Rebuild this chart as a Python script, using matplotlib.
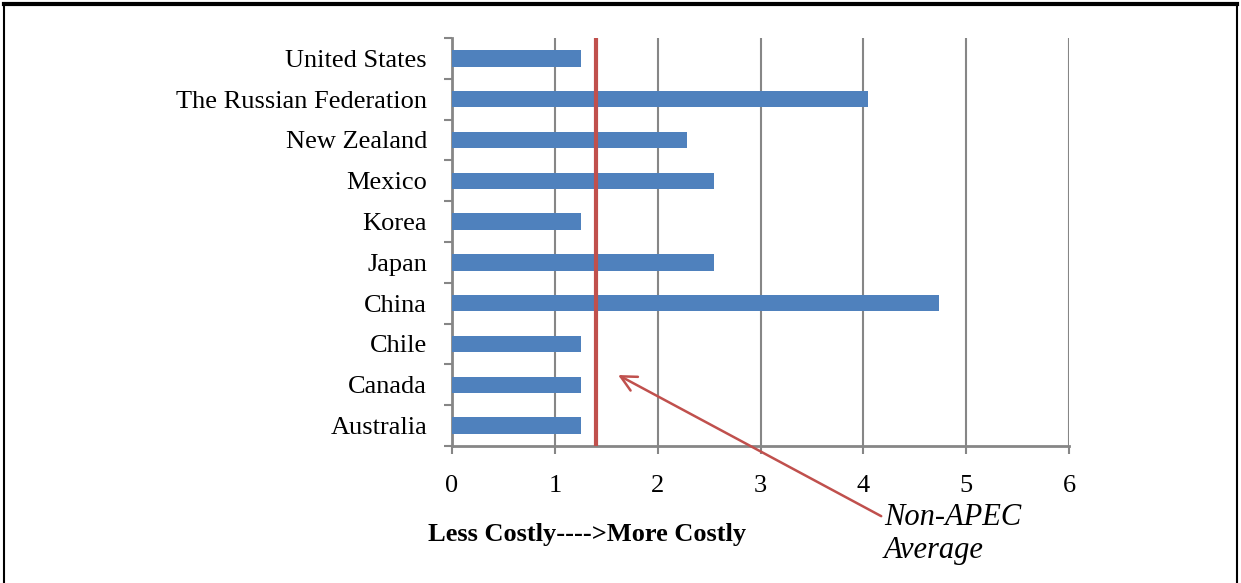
import matplotlib
matplotlib.use("Agg")
import matplotlib.pyplot as plt
from matplotlib.lines import Line2D

countries = ["Australia", "Canada", "Chile", "China", "Japan", "Korea",
             "Mexico", "New Zealand", "The Russian Federation", "United States"]
values = [1.25, 1.25, 1.25, 4.74, 2.55, 1.25, 2.55, 2.29, 4.05, 1.25]
non_apec_avg = 1.40
xticks = [0, 1, 2, 3, 4, 5, 6]

plt.rcParams['font.family'] = ['Liberation Serif', 'DejaVu Serif']

W, H = 1241, 583
fig = plt.figure(figsize=(W / 100, H / 100), dpi=100)
ax = fig.add_axes([452 / W, 1 - 446 / H, (1069 - 452) / W, (446 - 38) / H])

grey = "#868686"
ypos = list(range(len(countries)))
ax.barh(ypos, values, height=0.4, color="#4F81BD", zorder=3)
ax.axvline(non_apec_avg, color="#C0504D", lw=3, zorder=4)

ax.set_xlim(0, 6)
ax.set_ylim(-0.5, len(countries) - 0.5)
ax.set_xticks(xticks)
ax.set_xticklabels([str(t) for t in xticks], fontsize=19)
ax.set_yticks(ypos)
ax.set_yticklabels(countries, fontsize=19)
ax.tick_params(axis='y', length=0, pad=18)
ax.set_yticks([i - 0.5 for i in range(len(countries) + 1)], minor=True)
ax.tick_params(axis='y', which='minor', length=6, width=1.5, color=grey, direction='out')
ax.tick_params(axis='x', length=6, width=1.5, color=grey, direction='out', pad=15)

ax.grid(axis='x', color=grey, lw=1.5, zorder=0)
for s in ['top', 'right']:
    ax.spines[s].set_visible(False)
for s in ['left', 'bottom']:
    ax.spines[s].set_color(grey)
    ax.spines[s].set_linewidth(2)

fig.text(587 / W, 1 - 534 / H, "Less Costly---->More Costly", fontsize=19,
         fontweight='bold', ha='center', va='center')

ax.annotate("Non-APEC\nAverage", xy=(1.615, 1.24), xycoords='data',
            xytext=(884 / W, 1 - 534 / H), textcoords='figure fraction',
            fontsize=22, fontstyle='italic', ha='left', va='center',
            linespacing=1.22,
            arrowprops=dict(arrowstyle='->', color="#C0504D", lw=1.8,
                            mutation_scale=28, shrinkA=0, shrinkB=0,
                            relpos=(0, 0.76)),
            annotation_clip=False)

# page frame
fig.add_artist(Line2D([4 / W, 1237 / W], [1 - 4 / H, 1 - 4 / H], color='black', lw=3))
fig.add_artist(Line2D([4 / W, 4 / W], [0, 1 - 4 / H], color='black', lw=1.5))
fig.add_artist(Line2D([1237 / W, 1237 / W], [0, 1 - 4 / H], color='black', lw=1.5))

fig.savefig("out.png", dpi=100)
